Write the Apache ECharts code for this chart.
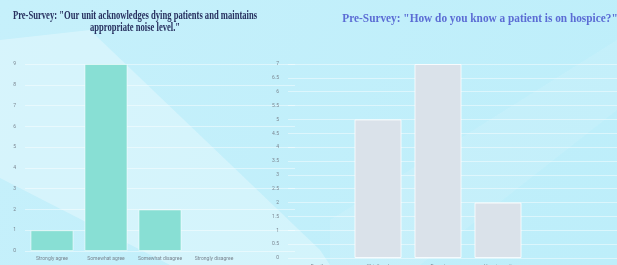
<!DOCTYPE html>
<html>
<head>
<meta charset="utf-8">
<script src="https://cdn.jsdelivr.net/npm/echarts@6/dist/echarts.min.js"></script>
<style>
  html, body { margin: 0; padding: 0; }
  #chart { width: 617px; height: 265px; }
</style>
</head>
<body>
<div id="chart"></div>
<script>
// left survey: noise level
const noiseCategories = ['Strongly agree', 'Somewhat agree', 'Somewhat disagree', 'Strongly disagree']
const noiseValues = [1, 9, 2, 0]
const noiseTicks = [0, 1, 2, 3, 4, 5, 6, 7, 8, 9]

// right survey: how do you know about hospice
const hospiceCategories = ['Family', 'Wristband', 'Report', 'Hospice unit']
const hospiceValues = [0, 5, 7, 2]
const hospiceTicks = [0, 0.5, 1, 1.5, 2, 2.5, 3, 3.5, 4, 4.5, 5, 5.5, 6, 6.5, 7]

const labelStyle = { color: '#7a8590', fontSize: 5, fontFamily: 'Roboto' }
const gridLine = { lineStyle: { color: 'rgba(255,255,255,0.45)', width: 1 } }

// empty bars should not leave a border line on the baseline
const toBarData = values => values.map(v => (v ? v : { value: v, itemStyle: { borderWidth: 0 } }))

const EC = echarts.init(document.getElementById('chart'))

let option = {
    backgroundColor: new echarts.graphic.LinearGradient(0, 0, 1, 1, [
        { offset: 0, color: '#c6f0fb' },
        { offset: 1, color: '#bdeefa' }
    ]),
    graphic: [
        {
            type: 'polygon',
            z: -10,
            silent: true,
            shape: { points: [[0, 40], [90, 30], [320, 250], [330, 265], [170, 265], [0, 178]] },
            style: { fill: 'rgba(255,255,255,0.3)' }
        },
        {
            type: 'polygon',
            z: -10,
            silent: true,
            shape: { points: [[330, 220], [617, 40], [617, 110], [420, 265], [330, 265]] },
            style: { fill: 'rgba(255,255,255,0.1)' }
        },
        {
            type: 'text',
            x: 135,
            y: 9,
            scaleX: 0.66,
            style: {
                text: 'Pre-Survey: "Our unit acknowledges dying patients and maintains',
                font: 'bold 13px "Liberation Serif"',
                fill: '#27305f',
                align: 'center'
            }
        },
        {
            type: 'text',
            x: 135,
            y: 21,
            scaleX: 0.66,
            style: {
                text: 'appropriate noise level."',
                font: 'bold 13px "Liberation Serif"',
                fill: '#27305f',
                align: 'center'
            }
        },
        {
            type: 'text',
            x: 480,
            y: 12,
            scaleX: 0.87,
            style: {
                text: 'Pre-Survey: "How do you know a patient is on hospice?"',
                font: 'bold 13px "Liberation Serif"',
                fill: '#5b6cd4',
                align: 'center'
            }
        }
    ],
    grid: [
        { left: 25, top: 64, width: 270, height: 187, outerBoundsMode: 'none' },
        { left: 288, top: 64, width: 360, height: 194, outerBoundsMode: 'none' }
    ],
    xAxis: [
        {
            type: 'category',
            gridIndex: 0,
            data: noiseCategories,
            max: 4,
            axisLine: { show: false },
            axisTick: { show: false },
            axisLabel: Object.assign({ margin: 5, interval: 0 }, labelStyle)
        },
        {
            type: 'category',
            gridIndex: 1,
            data: hospiceCategories,
            max: 5,
            axisLine: { show: false },
            axisTick: { show: false },
            axisLabel: Object.assign({ margin: 6, interval: 0 }, labelStyle)
        }
    ],
    yAxis: [
        {
            type: 'value',
            gridIndex: 0,
            min: noiseTicks[0],
            max: noiseTicks[noiseTicks.length - 1],
            interval: 1,
            axisLine: { show: false },
            axisTick: { show: false },
            axisLabel: Object.assign({ margin: 9 }, labelStyle),
            splitLine: gridLine
        },
        {
            type: 'value',
            gridIndex: 1,
            min: hospiceTicks[0],
            max: hospiceTicks[hospiceTicks.length - 1],
            interval: 0.5,
            axisLine: { show: false },
            axisTick: { show: false },
            axisLabel: Object.assign({ margin: 9 }, labelStyle),
            splitLine: gridLine
        }
    ],
    series: [
        {
            type: 'bar',
            xAxisIndex: 0,
            yAxisIndex: 0,
            data: toBarData(noiseValues),
            barWidth: 43,
            itemStyle: {
                color: '#88dfd4',
                borderColor: 'rgba(255,255,255,0.5)',
                borderWidth: 1
            }
        },
        {
            type: 'bar',
            xAxisIndex: 1,
            yAxisIndex: 1,
            data: toBarData(hospiceValues),
            barWidth: 47,
            itemStyle: {
                color: '#dae2ea',
                borderColor: 'rgba(255,255,255,0.8)',
                borderWidth: 1
            }
        }
    ]
}
EC.setOption(option)
</script>
</body>
</html>
